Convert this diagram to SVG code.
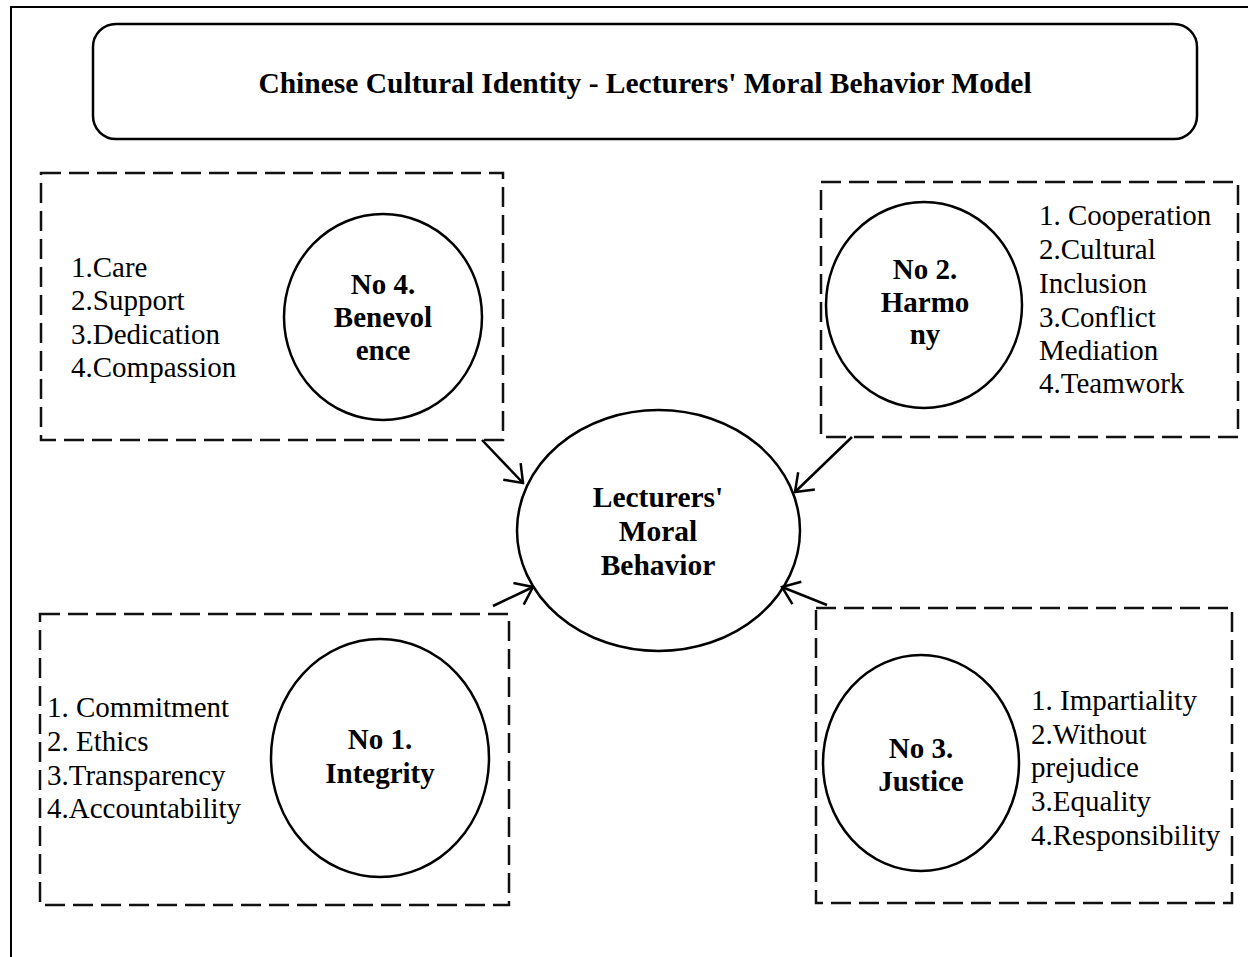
<svg xmlns="http://www.w3.org/2000/svg" width="1248" height="957" viewBox="0 0 1248 957">
<style>
.frame{fill:none;stroke:#000;stroke-width:2}
.dash{fill:none;stroke:#111;stroke-width:2.5;stroke-dasharray:20 8}
.circ{fill:#fff;stroke:#000;stroke-width:2.5}
.lbl{font-family:"Liberation Serif","Times New Roman",serif;font-weight:bold;font-size:29px;text-anchor:middle;fill:#000}
.lst{font-family:"Liberation Serif","Times New Roman",serif;font-size:29px;fill:#000}
.arr{fill:none;stroke:#000;stroke-width:2.5;marker-end:url(#ah)}
</style>
<defs>
<marker id="ah" viewBox="0 0 20 26" refX="18" refY="13" markerWidth="20" markerHeight="26" markerUnits="userSpaceOnUse" orient="auto">
<path d="M2,1 L18,13 L2,25" fill="none" stroke="#000" stroke-width="2.5"/>
</marker>
</defs>
<rect width="1248" height="957" fill="#fff"/>
<path class="frame" d="M11,957 L11,7 L1248,7"/>
<g id="title">
<rect x="93" y="24" width="1104" height="115" rx="23" ry="23" fill="#fff" stroke="#000" stroke-width="2.5"/>
<text class="lbl" x="645" y="93" style="font-size:29.5px">Chinese Cultural Identity - Lecturers' Moral Behavior Model</text>
</g>
<g id="benevolence">
<rect class="dash" x="41" y="173" width="462" height="267"/>
<ellipse class="circ" cx="383" cy="317" rx="99" ry="103"/>
<text class="lbl" x="383" y="294">No 4.</text>
<text class="lbl" x="383" y="327">Benevol</text>
<text class="lbl" x="383" y="360">ence</text>
<text class="lst" x="71" y="277">1.Care</text>
<text class="lst" x="71" y="310">2.Support</text>
<text class="lst" x="71" y="344">3.Dedication</text>
<text class="lst" x="71" y="377">4.Compassion</text>
</g>
<g id="harmony">
<rect class="dash" x="821" y="182" width="417" height="255"/>
<ellipse class="circ" cx="924" cy="305" rx="98" ry="103"/>
<text class="lbl" x="925" y="279">No 2.</text>
<text class="lbl" x="925" y="312">Harmo</text>
<text class="lbl" x="925" y="344">ny</text>
<text class="lst" x="1039" y="225">1. Cooperation</text>
<text class="lst" x="1039" y="259">2.Cultural</text>
<text class="lst" x="1039" y="293">Inclusion</text>
<text class="lst" x="1039" y="327">3.Conflict</text>
<text class="lst" x="1039" y="360">Mediation</text>
<text class="lst" x="1039" y="393">4.Teamwork</text>
</g>
<g id="integrity">
<rect class="dash" x="40" y="614" width="469" height="291"/>
<ellipse class="circ" cx="380" cy="758" rx="109" ry="119"/>
<text class="lbl" x="380" y="749">No 1.</text>
<text class="lbl" x="380" y="783">Integrity</text>
<text class="lst" x="47" y="717">1. Commitment</text>
<text class="lst" x="47" y="751">2. Ethics</text>
<text class="lst" x="47" y="785">3.Transparency</text>
<text class="lst" x="47" y="818">4.Accountability</text>
</g>
<g id="justice">
<rect class="dash" x="816" y="608" width="416" height="295"/>
<ellipse class="circ" cx="921" cy="763" rx="98" ry="108"/>
<text class="lbl" x="921" y="758">No 3.</text>
<text class="lbl" x="921" y="791">Justice</text>
<text class="lst" x="1031" y="710">1. Impartiality</text>
<text class="lst" x="1031" y="744">2.Without</text>
<text class="lst" x="1031" y="777">prejudice</text>
<text class="lst" x="1031" y="811">3.Equality</text>
<text class="lst" x="1031" y="845">4.Responsibility</text>
</g>
<g id="center">
<ellipse class="circ" cx="658.5" cy="530.5" rx="141.5" ry="120.5"/>
<text class="lbl" x="658" y="507" style="font-size:29.5px">Lecturers'</text>
<text class="lbl" x="658" y="541" style="font-size:29.5px">Moral</text>
<text class="lbl" x="658" y="575" style="font-size:29.5px">Behavior</text>
</g>
<g id="connectors">
<path class="arr" d="M482,440 L523,483"/>
<path class="arr" d="M852,437 L795,492"/>
<path class="arr" d="M493,606 L533,587"/>
<path class="arr" d="M827,605 L782,587"/>
</g>
</svg>
